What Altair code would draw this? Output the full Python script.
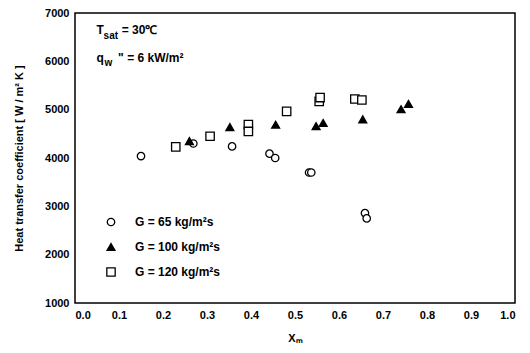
import altair as alt
import pandas as pd

# ---- data ----
series_labels = ["G = 65 kg/m²s", "G = 100 kg/m²s", "G = 120 kg/m²s"]

g65_x = [0.150, 0.269, 0.357, 0.442, 0.455, 0.532, 0.537, 0.659, 0.663]
g65_y = [4040, 4300, 4240, 4090, 4000, 3700, 3700, 2860, 2750]

g100_x = [0.260, 0.352, 0.456, 0.548, 0.564, 0.654, 0.741, 0.758]
g100_y = [4350, 4640, 4690, 4660, 4725, 4800, 5010, 5120]

g120_x = [0.229, 0.307, 0.394, 0.394, 0.481, 0.555, 0.557, 0.636, 0.652]
g120_y = [4230, 4450, 4690, 4550, 4965, 5170, 5250, 5220, 5200]

x_tick_values = [0.0, 0.1, 0.2, 0.3, 0.4, 0.5, 0.6, 0.7, 0.8, 0.9, 1.0]
y_tick_values = [1000, 2000, 3000, 4000, 5000, 6000, 7000]

ann_main_text = ["T", "= 30℃", "q", "\" = 6 kW/m²"]
ann_main_x = [0.049, 0.106, 0.049, 0.098]
ann_main_y = [6640, 6640, 6060, 6060]

ann_sub_text = ["sat", "w"]
ann_sub_x = [0.065, 0.067]
ann_sub_y = [6530, 5960]

# ---- tables ----
rows = []
for lab, xs, ys in [(series_labels[0], g65_x, g65_y),
                    (series_labels[1], g100_x, g100_y),
                    (series_labels[2], g120_x, g120_y)]:
    for xv, yv in zip(xs, ys):
        rows.append({"x": xv, "y": yv, "series": lab})
df = pd.DataFrame(rows)

ann_main = pd.DataFrame({"x": ann_main_x, "y": ann_main_y, "t": ann_main_text})
ann_sub = pd.DataFrame({"x": ann_sub_x, "y": ann_sub_y, "t": ann_sub_text})

FONT = "Liberation Sans"
x_scale = alt.Scale(domain=[0, 1], nice=False, zero=False)
y_scale = alt.Scale(domain=[1000, 7000], nice=False, zero=False)

legend = alt.Legend(
    title=None, orient="none", legendX=30, legendY=203,
    labelFont=FONT, labelFontSize=12, labelFontWeight="bold", labelColor="black",
    symbolStrokeWidth=1.3,
    rowPadding=11, labelOffset=18, padding=0,
)

points = alt.Chart(df).mark_point(
    filled=True, strokeWidth=1.3, opacity=1
).encode(
    x=alt.X("x:Q", scale=x_scale,
            axis=alt.Axis(values=x_tick_values, format=".1f", title="Xₘ",
                          titlePadding=12)),
    y=alt.Y("y:Q", scale=y_scale,
            axis=alt.Axis(values=y_tick_values, format="d",
                          title="Heat transfer coefficient [ W / m² K ]",
                          titlePadding=20)),
    shape=alt.Shape("series:N", scale=alt.Scale(domain=series_labels,
                    range=["circle", "triangle-up", "square"]), legend=legend),
    fill=alt.Fill("series:N", scale=alt.Scale(domain=series_labels,
                  range=["white", "black", "white"]), legend=legend),
    stroke=alt.Stroke("series:N", scale=alt.Scale(domain=series_labels,
                      range=["black", "black", "black"]), legend=legend),
    size=alt.Size("series:N", scale=alt.Scale(domain=series_labels,
                  range=[55, 70, 42]), legend=legend),
)

main_text = alt.Chart(ann_main).mark_text(
    align="left", baseline="middle", font=FONT, fontWeight="bold",
    fontSize=12, color="black"
).encode(x=alt.X("x:Q", scale=x_scale), y=alt.Y("y:Q", scale=y_scale), text="t:N")

sub_text = alt.Chart(ann_sub).mark_text(
    align="left", baseline="middle", font=FONT, fontWeight="bold",
    fontSize=10, color="black"
).encode(x=alt.X("x:Q", scale=x_scale), y=alt.Y("y:Q", scale=y_scale), text="t:N")

chart = alt.layer(points, main_text, sub_text).properties(
    width=440, height=290,
    autosize=alt.AutoSizeParams(type="none"),
    padding={"left": 67, "top": 5, "right": 7, "bottom": 40},
).configure_view(
    stroke="black", strokeWidth=1.5
).configure_axis(
    domain=False, ticks=False, grid=False,
    labelFont=FONT, labelFontSize=11, labelFontWeight="bold", labelColor="black",
    labelPadding=6,
    titleFont=FONT, titleFontSize=11, titleFontWeight="bold", titleColor="black",
)

chart.save("out.html", embed_options={"renderer": "svg", "actions": False})
